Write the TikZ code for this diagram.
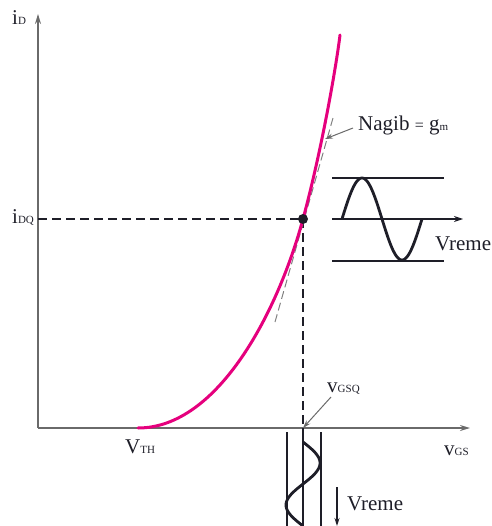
\documentclass[tikz,border=0pt]{standalone}
\usepackage{fontspec}
\setmainfont{Liberation Serif}
\usetikzlibrary{arrows.meta}
\definecolor{axisgray}{HTML}{6A6A6A}
\definecolor{curvemag}{HTML}{E5007D}
\definecolor{inkdark}{HTML}{1E1E28}
\newcommand{\mybig}{\fontsize{21}{24}\selectfont}
\newcommand{\mysmall}{\fontsize{11}{12}\selectfont}
\begin{document}
\begin{tikzpicture}[x=1pt,y=-1pt,
  axisline/.style={draw=axisgray,line width=1.5pt,-{Stealth[length=10pt,width=6pt]}},
  dashline/.style={draw=inkdark,line width=1.2pt,dash pattern=on 9pt off 5pt},
  tanline/.style={draw=gray,line width=1pt,dash pattern=on 8pt off 4pt},
  thinline/.style={draw=inkdark,line width=1.1pt},
  waveline/.style={draw=inkdark,line width=2.8pt},
  ptr/.style={draw=axisgray,line width=1pt,-{Stealth[length=8pt,width=5pt]}},
  lbl/.style={anchor=base west,inner sep=0pt,text=inkdark}]
\useasboundingbox (0,0) rectangle (491,526);
% coordinates
\coordinate (O) at (38,428);
\coordinate (Ytip) at (38,14);
\coordinate (Xtip) at (470,428);
\coordinate (Q) at (303,219);
\coordinate (Qx) at (303,428);
\coordinate (Qy) at (38,219);
\coordinate (VT) at (138,428);
\coordinate (Top) at (340,35);
% axes
\draw[axisline] (O) -- (Ytip);
\draw[axisline] (O) -- (Xtip);
% dashed projections
\draw[dashline] (Qy) -- (Q);
\draw[dashline] (Q) -- (Qx);
% tangent
\coordinate (T1) at (275,322);
\coordinate (T2) at (333,118);
\draw[tanline] (T1) -- (T2);
% transfer curve
\draw[curvemag,line width=3pt,line cap=round]
  (VT) .. controls (218,428) and (278,311.5) .. (Q)
       .. controls (323,145) and (337,60.5) .. (Top);
\fill[inkdark] (Q) circle (5pt);
% output sine (time axis to the right)
\coordinate (Ws) at (332,219);
\coordinate (We) at (463,219);
\coordinate (BoxT1) at (332,178);
\coordinate (BoxT2) at (444,178);
\coordinate (BoxB1) at (332,261);
\coordinate (BoxB2) at (444,261);
\draw[thinline] (BoxT1) -- (BoxT2);
\draw[thinline] (BoxB1) -- (BoxB2);
\draw[thinline,-{Stealth[length=9pt,width=6pt]}] (Ws) -- (We);
\draw[waveline] plot[domain=0:360,samples=80] ({342+\x/360*80},{219-41*sin(\x)});
% input sine (time axis downward)
\coordinate (L1) at (287,432);
\coordinate (L1b) at (287,526);
\coordinate (L2) at (321,432);
\coordinate (L2b) at (321,526);
\coordinate (Cb) at (303,526);
\draw[thinline] (L1) -- (L1b);
\draw[thinline] (L2) -- (L2b);
\draw[thinline] (Qx) -- (Cb);
\draw[waveline] plot[domain=0:360,samples=80] ({303+17*sin(\x)},{442+\x/360*84});
% time arrow below
\coordinate (D1) at (337,487);
\coordinate (D2) at (337,526);
\draw[thinline,-{Stealth[length=8pt,width=5pt]}] (D1) -- (D2);
% pointer arrows
\coordinate (N1) at (353,128);
\coordinate (N2) at (325,139);
\draw[ptr] (N1) -- (N2);
\coordinate (V1) at (331,397);
\draw[ptr] (V1) -- (Qx);
% labels
\node[lbl] (iD) at (12,25) {\mybig i\mysmall D};
\node[lbl] (iDQ) at (12,223) {\mybig i\mysmall DQ};
\node[lbl] (VTH) at (125,453) {\mybig V\mysmall TH};
\node[lbl] (vGS) at (444,455) {\mybig v\mysmall GS};
\node[lbl] (vGSQ) at (327,392) {\mybig v\mysmall GSQ};
\node[lbl] (nagib) at (358,131) {\mybig Nagib {\fontsize{16}{18}\selectfont=} g\mysmall m};
\node[lbl] (vr1) at (435,250) {\mybig Vreme};
\node[lbl] (vr2) at (347,510) {\mybig Vreme};
\end{tikzpicture}
\end{document}
